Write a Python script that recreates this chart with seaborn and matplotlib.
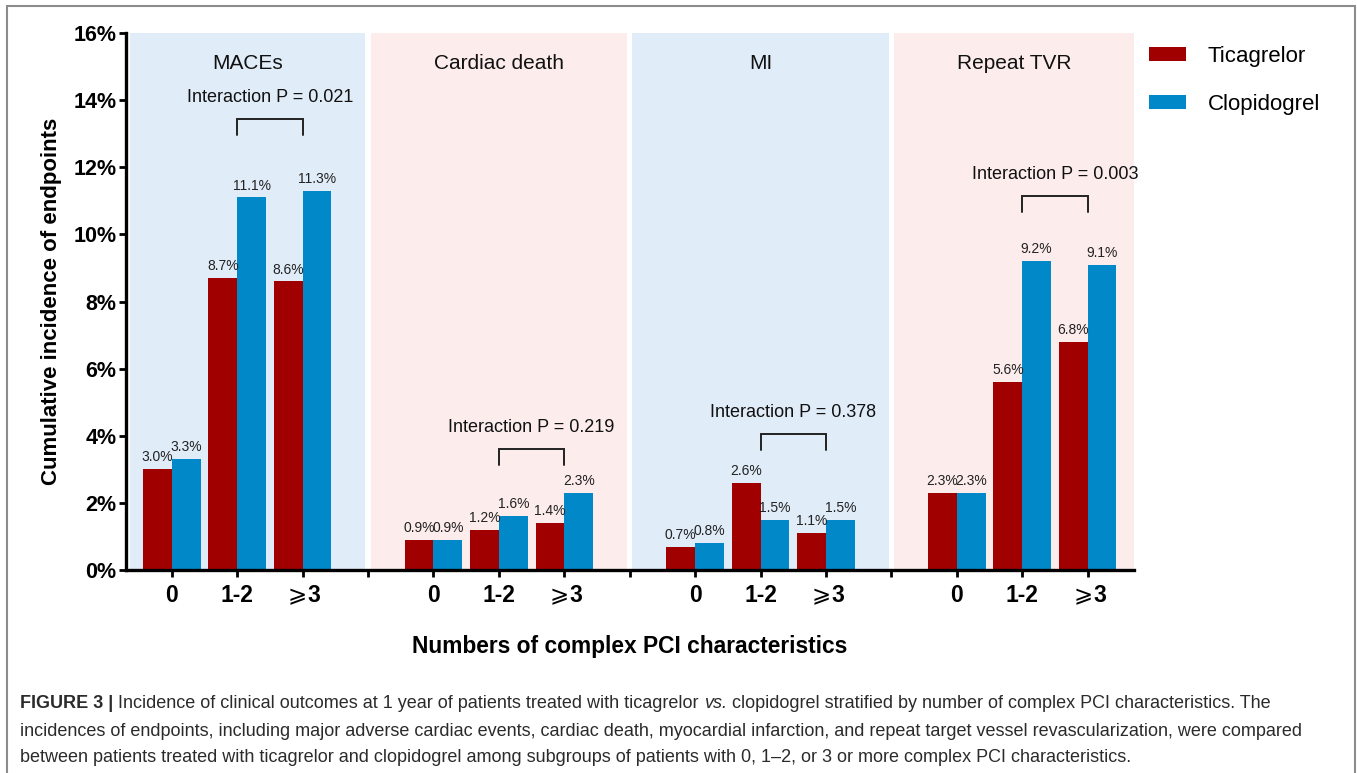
import numpy as np
import pandas as pd
import matplotlib
matplotlib.use("Agg")
import matplotlib.pyplot as plt
from matplotlib.patches import Rectangle
import seaborn as sns

# data
groups = ["MACEs", "Cardiac death", "MI", "Repeat TVR"]
levels = ["0", "1-2", r"$\geqslant\!$3"]
ticagrelor = [3.0, 8.7, 8.6, 0.9, 1.2, 1.4, 0.7, 2.6, 1.1, 2.3, 5.6, 6.8]
clopidogrel = [3.3, 11.1, 11.3, 0.9, 1.6, 2.3, 0.8, 1.5, 1.5, 2.3, 9.2, 9.1]
p_values = ["0.021", "0.219", "0.378", "0.003"]
# height (in %) of each interaction bracket
bracket_top = [13.45, 3.6, 4.05, 11.15]

RED = "#A00000"
BLUE = "#0088C8"
PANEL = ["#E0ECF8", "#FCEDEC", "#E0ECF8", "#FCEDEC"]

rows = []
for gi, g in enumerate(groups):
    for li, lv in enumerate(levels):
        k = gi * 3 + li
        pos = gi * 4 + li
        rows.append({"pos": pos, "group": g, "level": lv, "drug": "Ticagrelor", "value": ticagrelor[k]})
        rows.append({"pos": pos, "group": g, "level": lv, "drug": "Clopidogrel", "value": clopidogrel[k]})
df = pd.DataFrame(rows)

sns.set_style("ticks")
plt.rcParams["font.family"] = ["Liberation Sans", "DejaVu Sans"]
plt.rcParams["mathtext.fontset"] = "dejavusans"
plt.rcParams["text.color"] = "black"
plt.rcParams["axes.labelcolor"] = "black"
plt.rcParams["xtick.color"] = "black"
plt.rcParams["ytick.color"] = "black"

fig = plt.figure(figsize=(13.57, 7.73), dpi=100)
ax = fig.add_axes([126 / 1357, 1 - 570 / 773, (1133.5 - 126) / 1357, (570 - 33) / 773])

# coloured panels behind each endpoint
xmin, xmax = -0.7, 14.7
for gi in range(4):
    lo = xmin + 0.06 if gi == 0 else gi * 4 - 1 + 0.04
    hi = xmax if gi == 3 else gi * 4 + 3 - 0.04
    ax.axvspan(lo, hi, ymin=0, ymax=1, color=PANEL[gi], lw=0, zorder=0)
    ax.text((lo + hi) / 2, 15.1, groups[gi], ha="center", va="center", fontsize=15, color="#111111")

sns.barplot(data=df, x="pos", y="value", hue="drug", native_scale=True, width=0.88,
            palette=[RED, BLUE], hue_order=["Ticagrelor", "Clopidogrel"],
            linewidth=0, saturation=1, ax=ax, zorder=2)

for c in ax.containers:
    ax.bar_label(c, labels=[f"{b.get_height():.1f}%" for b in c], padding=3.5,
                 fontsize=10, color="#222222")

# interaction brackets
for gi in range(4):
    x1, x2 = gi * 4 + 1, gi * 4 + 2
    top = bracket_top[gi]
    ax.plot([x1, x1, x2, x2], [top - 0.48, top, top, top - 0.48], color="#222222", lw=1.4,
            solid_joinstyle="miter", zorder=3)
    ax.text((x1 + x2) / 2, top + 0.64, f"Interaction P = {p_values[gi]}", ha="center",
            va="center", fontsize=13, color="#111111")

ax.set_xlim(xmin, xmax)
ax.set_ylim(0, 16)
ticks = list(range(15))
labels = []
for t in ticks:
    labels.append("" if t % 4 == 3 else levels[t % 4])
ax.set_xticks(ticks)
ax.set_xticklabels(labels, fontsize=16.5, fontweight="bold")
ax.set_yticks(np.arange(0, 17, 2))
ax.set_yticklabels([f"{v}%" for v in range(0, 17, 2)], fontsize=15.5, fontweight="bold")
ax.tick_params(axis="both", width=2, length=5, color="black")
ax.tick_params(axis="y", pad=2)
ax.tick_params(axis="x", pad=5)
for s in ["top", "right"]:
    ax.spines[s].set_visible(False)
for s in ["left", "bottom"]:
    ax.spines[s].set_linewidth(2.4)
    ax.spines[s].set_color("black")
ax.set_ylabel("Cumulative incidence of endpoints", fontsize=16, fontweight="bold", labelpad=8)
ax.set_xlabel("Numbers of complex PCI characteristics", fontsize=16.4, fontweight="bold", labelpad=20)

handles, labs = ax.get_legend_handles_labels()
ax.legend(handles, labs, loc="upper left", bbox_to_anchor=(1149 / 1357, 1 - 46 / 773),
          bbox_transform=fig.transFigure, frameon=False, borderpad=0, borderaxespad=0,
          fontsize=16, handlelength=1.65, handleheight=0.55, handletextpad=1.0,
          labelspacing=1.2, title=None)

# border of the figure panel
fig.add_artist(Rectangle((7 / 1357, -0.05), (1355 - 7) / 1357, 1 - 6 / 773 + 0.05,
                         transform=fig.transFigure, fill=False, edgecolor="#8c8c8c", lw=1.5))

# caption with bold and italic pieces
renderer = fig.canvas.get_renderer()
cap_size = 13.0
cap_color = "#2b2b2b"


def text_w(s, **kw):
    t = fig.text(0, 0, s, fontsize=cap_size, **kw)
    w = t.get_window_extent(renderer).width
    t.remove()
    return w


space = text_w("a a") - text_w("aa")
caption = [
    [("FIGURE 3 |", {"fontweight": "bold"}),
     ("Incidence of clinical outcomes at 1 year of patients treated with ticagrelor", {}),
     ("vs.", {"style": "italic"}),
     ("clopidogrel stratified by number of complex PCI characteristics. The", {})],
    [("incidences of endpoints, including major adverse cardiac events, cardiac death, myocardial infarction, and repeat target vessel revascularization, were compared", {})],
    [("between patients treated with ticagrelor and clopidogrel among subgroups of patients with 0, 1\u20132, or 3 or more complex PCI characteristics.", {})],
]
line_y = [703, 731, 758]
for runs, yy in zip(caption, line_y):
    xpx = 20
    for s, kw in runs:
        t = fig.text(xpx / 1357, 1 - yy / 773, s, fontsize=cap_size, color=cap_color,
                     va="center", ha="left", **kw)
        xpx += t.get_window_extent(renderer).width + space

fig.savefig("out.png", dpi=100)
